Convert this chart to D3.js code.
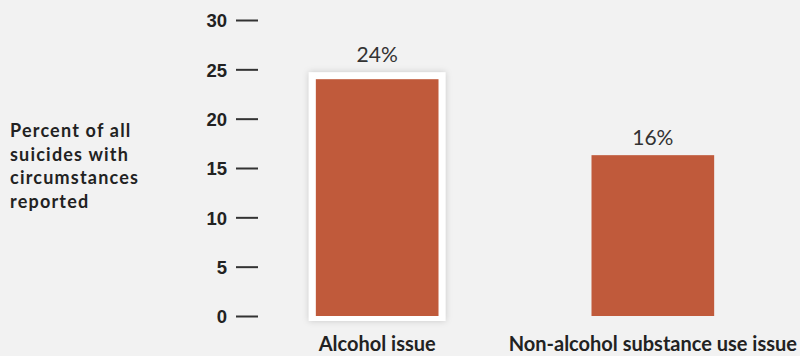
<!DOCTYPE html>
<html>
<head>
<meta charset="utf-8">
<script src="https://cdn.jsdelivr.net/npm/d3@7"></script>
<style>
  body { margin: 0; background: #f2f2f2; }
  svg { display: block; font-family: "Lato", "Noto Sans", sans-serif; }
</style>
</head>
<body>
<script>
const width = 800;
const height = 356;

// data
const categories = ["Alcohol issue", "Non-alcohol substance use issue"];
const values = [24, 16.3];
const valueLabels = ["24%", "16%"];
const yTicks = [0, 5, 10, 15, 20, 25, 30];
const titleLines = ["Percent of all", "suicides with", "circumstances", "reported"];
const highlighted = "Alcohol issue";

const svg = d3.select("body")
  .append("svg")
  .attr("width", width)
  .attr("height", height);

svg.append("rect")
  .attr("width", width)
  .attr("height", height)
  .attr("fill", "#f2f2f2");

const defs = svg.append("defs");
const shadow = defs.append("filter")
  .attr("id", "shadow")
  .attr("x", "-20%").attr("y", "-20%")
  .attr("width", "140%").attr("height", "140%");
shadow.append("feDropShadow")
  .attr("dx", 0).attr("dy", 0)
  .attr("stdDeviation", 3)
  .attr("flood-color", "#000")
  .attr("flood-opacity", 0.18);

const y = d3.scaleLinear()
  .domain([0, 30])
  .range([316, 20]);

const x = d3.scaleBand()
  .domain(categories)
  .range([178, 852])
  .paddingInner(0.555)
  .paddingOuter(0.5);

// y axis: short dashes, bold labels
const yAxis = d3.axisLeft(y)
  .tickValues(yTicks)
  .tickSize(0)
  .tickPadding(0);

const ga = svg.append("g")
  .attr("transform", "translate(227,0)")
  .call(yAxis);
ga.select(".domain").remove();
ga.selectAll(".tick text")
  .attr("x", 0)
  .attr("dy", "0.36em")
  .style("font-size", "18.5px")
  .style("font-weight", "bold")
  .style("fill", "#222");
ga.selectAll(".tick").append("line")
  .attr("x1", 9).attr("x2", 31)
  .attr("stroke", "#333")
  .attr("stroke-width", 2);

// title
svg.append("text")
  .attr("x", 10)
  .attr("y", 137)
  .style("font-size", "18px")
  .style("font-weight", "bold")
  .style("letter-spacing", "1.2px")
  .style("fill", "#222")
  .selectAll("tspan")
  .data(titleLines)
  .enter().append("tspan")
  .attr("x", 10)
  .attr("dy", (d, i) => i === 0 ? 0 : 23.5)
  .text(d => d);

// white frame behind highlighted bar
svg.selectAll(".frame")
  .data(categories.filter(c => c === highlighted))
  .enter().append("rect")
  .attr("class", "frame")
  .attr("x", d => x(d) - 7)
  .attr("y", d => y(values[categories.indexOf(d)]) - 7)
  .attr("width", x.bandwidth() + 14)
  .attr("height", d => y(0) - y(values[categories.indexOf(d)]) + 12)
  .attr("fill", "#fff")
  .attr("filter", "url(#shadow)");

svg.selectAll(".bar")
  .data(values)
  .enter().append("rect")
  .attr("class", "bar")
  .attr("x", (d, i) => x(categories[i]))
  .attr("y", d => y(d))
  .attr("width", x.bandwidth())
  .attr("height", d => y(0) - y(d))
  .attr("fill", "#c05a3b");

svg.selectAll(".val")
  .data(values)
  .enter().append("text")
  .attr("class", "val")
  .attr("x", (d, i) => x(categories[i]) + x.bandwidth() / 2)
  .attr("y", (d, i) => y(d) - (categories[i] === highlighted ? 17 : 10))
  .attr("text-anchor", "middle")
  .style("font-size", "21px")
  .style("fill", "#333")
  .text((d, i) => valueLabels[i]);

svg.selectAll(".cat")
  .data(categories)
  .enter().append("text")
  .attr("class", "cat")
  .attr("x", d => x(d) + x.bandwidth() / 2)
  .attr("y", 351)
  .attr("text-anchor", "middle")
  .style("font-size", "20px")
  .style("font-weight", "bold")
  .style("fill", "#222")
  .text(d => d);
</script>
</body>
</html>
